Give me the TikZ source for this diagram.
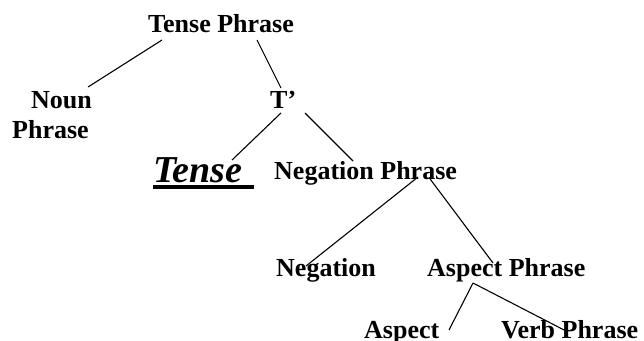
\documentclass[tikz,border=0pt]{standalone}
\usepackage{fontspec}
\setmainfont{Liberation Serif}
\begin{document}
\begin{tikzpicture}[x=1pt,y=-1pt,
  lbl/.style={anchor=base west,inner sep=0pt,font=\fontsize{26}{30}\selectfont\bfseries},
  big/.style={anchor=base west,inner sep=0pt,font=\fontsize{38}{42}\selectfont\bfseries\itshape},
  edge/.style={line width=1.1pt}]
\useasboundingbox (0,0) rectangle (644,340);
\node[lbl] (tp) at (148,32) {Tense Phrase};
\node[lbl] (np) at (31,108) {Noun};
\node[lbl] (np2) at (12,138) {Phrase};
\node[lbl] (tb) at (270,108) {T’};
\node[big] (tense) at (153,182) {Tense};
\node[lbl] (negp) at (274,179.5) {Negation Phrase};
\node[lbl] (neg) at (276,276) {Negation};
\node[lbl] (aspp) at (427,276) {Aspect Phrase};
\node[lbl] (asp) at (364,338) {Aspect};
\node[lbl] (vp) at (501,338) {Verb Phrase};
% underline of Tense
\fill ([shift={(0,2.5)}]tense.base west) rectangle ++(101,4.5);
% connectors
\draw[edge] ([shift={(14,8)}]tp.base west) -- ([shift={(57,-21)}]np.base west);
\draw[edge] ([shift={(109,8)}]tp.base west) -- ([shift={(11,-20)}]tb.base west);
\draw[edge] ([shift={(11,5)}]tb.base west) -- ([shift={(79,-22)}]tense.base west);
\draw[edge] ([shift={(35,5)}]tb.base west) -- ([shift={(79,-18.5)}]negp.base west);
\draw[edge] ([shift={(144,-2.5)}]negp.base west) -- ([shift={(30,-10)}]neg.base west);
\draw[edge] ([shift={(155,-2)}]negp.base west) -- ([shift={(66,-13)}]aspp.base west);
\draw[edge] ([shift={(46,7)}]aspp.base west) -- ([shift={(85,-8)}]asp.base west);
\draw[edge] ([shift={(46,7)}]aspp.base west) -- ([shift={(65,-7)}]vp.base west);
\end{tikzpicture}
\end{document}
